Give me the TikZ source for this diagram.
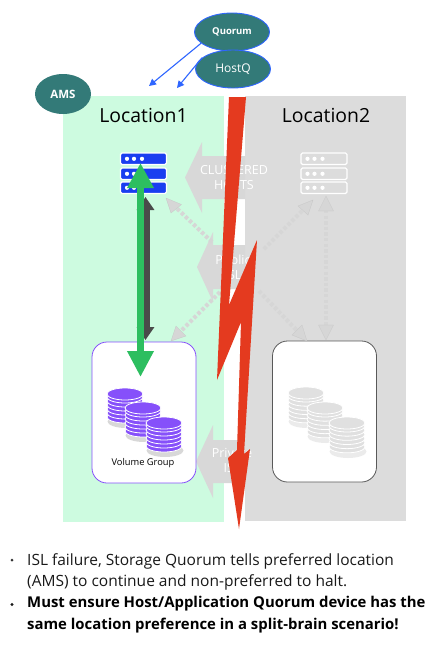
\documentclass[tikz,border=0pt]{standalone}
\usepackage{fontspec}
\setmainfont{Open Sans}
\usetikzlibrary{arrows.meta,shapes.geometric,calc}
\definecolor{mint}{HTML}{CDFBE0}
\definecolor{zone}{HTML}{DCDCDC}
\definecolor{teal}{HTML}{337A78}
\definecolor{edgeblue}{HTML}{2F66FF}
\definecolor{srvblue}{HTML}{1A3EF0}
\definecolor{boltred}{HTML}{E43A1F}
\definecolor{gogreen}{HTML}{2DBE60}
\definecolor{darkarrow}{HTML}{4A4A4A}
\definecolor{volpurple}{HTML}{8650FA}
\definecolor{blockgray}{HTML}{D8D8D8}
\definecolor{dotgray}{HTML}{D6D6D6}
\definecolor{shadowgray}{HTML}{C4C4C4}
\definecolor{diskgray}{HTML}{E0E0E0}
\tikzset{
  x=1pt,y=-1pt,
  tealnode/.style={ellipse,fill=teal,text=white,inner sep=0pt,font=\bfseries},
  blueedge/.style={edgeblue,line width=1.1pt,-{Triangle[length=7pt,width=7pt]}},
  zonelabel/.style={font=\fontsize{19.4}{22}\selectfont,text=black},
  blocktext/.style={font=\fontsize{12.5}{15}\selectfont,text=white,align=center},
  dotline/.style={dotgray,line width=4pt,dash pattern=on 3.4pt off 2.2pt},
  volbox/.style={draw,fill=white,rounded corners=15pt,minimum width=104pt,minimum height=141pt,inner sep=0pt,line width=0.8pt},
  plaintext/.style={anchor=north west,inner sep=0pt,font=\fontsize{15.5}{21.7}\selectfont,text=black!90},
  boldtext/.style={anchor=north west,inner sep=0pt,font=\bfseries\fontsize{14.9}{21.7}\selectfont},
}
\newcommand{\blockarrow}[5]{%
  \fill[blockgray] (#1,#2) -- (#3,#2-#4) -- (#3,#2-#5) -- (245,#2-#5) -- (245,#2+#5) -- (#3,#2+#5) -- (#3,#2+#4) -- cycle;}
\newcommand{\srvrow}[3]{%
  \draw[white,fill=#3,line width=1.1pt,rounded corners=1.5pt] (#1,#2) rectangle ++(46,11.5);
  \foreach \dd in {6.5,13.5,21.5}{\fill[white] (#1+\dd,#2+5.8) circle (2.1);}
}
\newcommand{\diskstack}[5]{%
  \fill[#5,opacity=0.3] (#1+1,#3+3.5) ellipse (18.5 and 6.5);
  \foreach \yy in {5,...,0}{
    \pgfmathsetmacro{\yp}{#2+(#3-#2)*\yy/6+3}
    \draw[white,fill=#4,line width=0.8pt] (#1,\yp) ellipse (18 and 6);
  }
  \draw[white,fill=#4,line width=0.8pt] (#1,#2) ellipse (18 and 6);
}
\begin{document}
\begin{tikzpicture}
\useasboundingbox (0,0) rectangle (435,646);
\fill[white] (0,0) rectangle (435,646);
\fill[mint] (63,96) rectangle (224,522);
\fill[zone] (245,96) rectangle (406,521);

\node[zonelabel] (loc1) at (143.5,115.5) {Location1};
\node[zonelabel] (loc2) at (326,115.5) {Location2};

\blockarrow{185}{177.5}{202}{35.5}{21.5}
\blockarrow{197}{267}{213}{35}{22}
\blockarrow{196}{461.5}{213}{36.5}{21.5}
\node[blocktext] (hosts) at (234,177.5) {CLUSTERED\\HOSTS};
\node[blocktext] (pubisl) at (233,267.5) {Public\\ISL};
\node[blocktext] (privisl) at (232,460.5) {Private\\ISL};

\node[minimum width=47pt,minimum height=41pt,inner sep=0pt] (srvL) at (143.5,173) {};
\node[minimum width=47pt,minimum height=41pt,inner sep=0pt] (srvR) at (324.5,173) {};
\srvrow{120.5}{153}{srvblue}
\srvrow{120.5}{168}{srvblue}
\srvrow{120.5}{182}{srvblue}
\srvrow{301}{153}{zone}
\srvrow{301}{168}{zone}
\srvrow{301}{182}{zone}

\node[volbox,draw=volpurple] (volL) at (144,412.5) {};
\node[volbox,draw=black!65] (volR) at (324.5,411.5) {};

\coordinate (hubA) at (212,242);
\coordinate (hubB) at (264,249);
\coordinate (hubC) at (220,292);
\coordinate (hubD) at (259,291);
\coordinate (tipA) at (166,198);
\coordinate (tipB) at (313,200);
\coordinate (tipC) at (171,341);
\coordinate (tipD) at (307,341);
\coordinate (tipE) at (326,196);
\coordinate (tipF) at (326,340);
\foreach \aa/\bb in {hubA/tipA,hubB/tipB,hubC/tipC,hubD/tipD}{
  \draw[dotline] (\aa) -- ($(\aa)!0.85!(\bb)$);
}
\fill[dotgray,draw=shadowgray,line width=0.2pt] (tipA) -- (181.5,204.5) -- (171,213) -- cycle;
\fill[dotgray,draw=shadowgray,line width=0.2pt] (tipB) -- (298,206) -- (308,215) -- cycle;
\fill[dotgray,draw=shadowgray,line width=0.2pt] (tipC) -- (176,326) -- (186,336) -- cycle;
\fill[dotgray,draw=shadowgray,line width=0.2pt] (tipD) -- (292,335) -- (302,325) -- cycle;
\draw[dotline] (326,210) -- (326,326);
\fill[dotgray,draw=shadowgray,line width=0.2pt] (tipE) -- (333.5,211) -- (318.5,211) -- cycle;
\fill[dotgray,draw=shadowgray,line width=0.2pt] (tipF) -- (333.5,325) -- (318.5,325) -- cycle;

\diskstack{125}{394}{418}{volpurple}{black!50}
\diskstack{143}{408}{432}{volpurple}{black!50}
\diskstack{164}{423}{447}{volpurple}{black!50}
\diskstack{306}{393}{418}{diskgray}{black!25}
\diskstack{325}{408}{433}{diskgray}{black!25}
\diskstack{347}{423}{448}{diskgray}{black!25}
\node[font=\fontsize{9.3}{11}\selectfont,text=black] (vglabel) at (143,463.5) {Volume Group};

\coordinate (srvLa) at (145.5,197);
\coordinate (volLa) at (145.5,340);
\draw[darkarrow,line width=8pt,{Triangle[length=13pt,width=17pt]}-{Triangle[length=13pt,width=17pt]}] (srvLa) -- (volLa);
\coordinate (srvLb) at (140.5,163);
\coordinate (volLb) at (140.5,377);
\draw[gogreen,line width=7.5pt,{Triangle[length=25pt,width=25pt]}-{Triangle[length=26pt,width=25pt]}] (srvLb) -- (volLb);

\fill[boltred] (229,97) -- (246,97) -- (229,305) -- (257,240) -- (244,454) -- (250,449) -- (239,529) -- (228,458) -- (237,450) -- (241,322) -- (217,380) -- cycle;

\node[tealnode,minimum width=75pt,minimum height=38pt,draw=edgeblue,line width=0.9pt,font=\bfseries\fontsize{9.5}{11}\selectfont] (quorum) at (232,32) {Quorum};
\node[tealnode,minimum width=75pt,minimum height=38pt,draw=edgeblue,line width=0.9pt,font=\fontsize{12}{14}\selectfont] (hostq) at (233,69) {HostQ};
\node[tealnode,minimum width=56pt,minimum height=40pt,font=\bfseries\fontsize{11.5}{14}\selectfont] (ams) at (63,94) {AMS};
\coordinate (arrowA) at (149,86);
\coordinate (arrowB) at (177,88);
\draw[blueedge] (quorum.200) -- (arrowA);
\draw[blueedge] (hostq.160) -- (arrowB);

\node[plaintext] (t1) at (27,553) {ISL failure, Storage Quorum tells preferred location};
\node[plaintext] (t2) at (27,574.5) {(AMS) to continue and non-preferred to halt.};
\node[boldtext] (t3) at (27,596) {Must ensure Host/Application Quorum device has the};
\node[boldtext] (t4) at (27,618) {same location preference in a split-brain scenario!};
\fill[black!80] (12,560) circle (1.5);
\fill[black!90] (12,604.5) circle (1.7);
\end{tikzpicture}
\end{document}
